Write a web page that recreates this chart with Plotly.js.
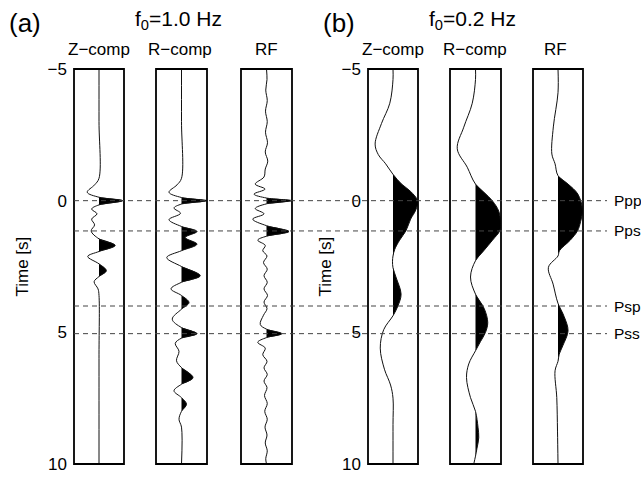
<!DOCTYPE html>
<html><head><meta charset="utf-8">
<script src="https://cdn.plot.ly/plotly-3.0.1.min.js"></script>
<style>html,body{margin:0;padding:0;background:#fff}#chart{width:641px;height:478px}</style>
</head><body><div id="chart"></div>
<script>
// ---- data (time in s, normalised amplitude) ----
const timeTicks = [-5, 0, 5, 10];
const phaseNames = ['Ppp', 'Pps', 'Psp', 'Pss'];
const phaseTimes = [0, 1.15, 4.0, 5.05];
const compTitles = ['Z−comp', 'R−comp', 'RF'];
const groupLabels = ['(a)', '(b)'];
const freqLabels = ['f<sub>0</sub>=1.0 Hz', 'f<sub>0</sub>=0.2 Hz'];

// (a) f0 = 1.0 Hz
const zA_t = [-5, -3, -0.85, -0.6, -0.32, -0.13, 0, 0.16, 0.32, 0.5, 0.7, 0.92, 1.15, 1.45, 1.7, 1.93, 2.12, 2.4, 2.66, 2.88, 3.08, 3.35, 3.6, 6, 10];
const zA_a = [0, 0, 0, -0.18, -0.48, 0, 0.97, 0, -0.3, -0.08, -0.3, -0.18, -0.32, 0, 0.66, 0, -0.46, 0, 0.3, 0, -0.2, -0.04, 0, 0, 0];

const rA_t = [-5, -3, -0.85, -0.6, -0.32, -0.12, 0, 0.13, 0.28, 0.48, 0.72, 0.98, 1.17, 1.4, 1.65, 1.9, 2.16, 2.5, 2.85, 3.1, 3.35, 3.6, 3.87, 4.12, 4.5, 4.82, 5.05, 5.22, 5.42, 5.72, 6.08, 6.34, 6.72, 6.97, 7.22, 7.48, 7.73, 8.0, 8.3, 8.6, 10];
const rA_a = [0, 0, 0, -0.18, -0.5, 0, 1.0, 0, -0.3, -0.04, -0.5, 0, 0.62, 0.15, 0.62, 0, -0.59, 0, 0.75, 0, -0.42, 0, 0.3, 0, -0.37, 0, 0.62, 0, -0.25, -0.1, -0.2, 0, 0.46, 0, -0.3, 0, 0.2, 0, -0.1, 0, 0];

const fA_t = [-5, -4.6, -4.2, -3.8, -3.4, -3.0, -2.6, -2.2, -1.85, -1.5, -1.2, -0.9, -0.63, -0.44, -0.25, -0.1, 0, 0.12, 0.3, 0.5, 0.7, 0.95, 1.17, 1.35, 1.5, 1.7, 1.9, 2.1, 2.35, 2.6, 2.85, 3.1, 3.35, 3.6, 3.85, 4.1, 4.35, 4.7, 4.88, 5.05, 5.2, 5.38, 5.6, 5.85, 6.1, 6.35, 6.6, 6.85, 7.1, 7.4, 7.7, 8.0, 8.3, 8.6, 8.9, 9.2, 9.5, 9.8, 10];
const fA_a = [0, 0.02, -0.03, 0.03, -0.04, 0.03, -0.04, 0.04, -0.05, 0.05, -0.05, -0.1, -0.45, -0.06, -0.5, 0, 1.0, 0, -0.45, -0.1, -0.55, 0, 0.9, 0, -0.35, -0.05, -0.15, 0.02, -0.12, 0.03, -0.1, 0.03, -0.1, 0.04, -0.1, 0.02, -0.12, -0.25, 0, 0.62, 0, -0.35, -0.05, -0.15, 0.02, -0.1, 0.03, -0.1, 0.02, -0.08, 0.03, -0.07, 0.03, -0.06, 0.02, -0.05, 0.03, -0.03, 0];

// (b) f0 = 0.2 Hz
const zB_t = [-5, -4.6, -3.7, -2.93, -2.15, -1.75, -1.4, -1.0, -0.63, -0.35, 0, 0.35, 0.7, 1.14, 1.5, 1.85, 2.1, 2.3, 2.55, 2.9, 3.55, 4.0, 4.37, 4.9, 5.6, 6.4, 7.0, 7.5, 8.5, 10];
const zB_a = [0, 0, -0.13, -0.47, -0.73, -0.6, -0.3, 0, 0.35, 0.72, 1.0, 0.93, 0.72, 0.53, 0.27, 0.07, 0, -0.02, 0, 0.12, 0.33, 0.2, 0, -0.38, -0.52, -0.35, -0.1, 0, 0, 0];

const rB_t = [-5, -4.6, -3.7, -2.79, -1.97, -1.27, -0.63, 0, 0.4, 0.82, 1.14, 1.5, 1.9, 2.28, 2.9, 3.55, 4.1, 4.63, 5.0, 5.35, 5.7, 6.2, 6.72, 7.48, 8.0, 8.6, 9.0, 9.4, 9.7, 10];
const rB_a = [0, 0, -0.13, -0.47, -0.73, -0.33, 0, 0.67, 0.93, 1.0, 0.97, 0.68, 0.33, 0, -0.2, 0, 0.35, 0.49, 0.4, 0.2, 0, -0.27, -0.36, -0.2, 0, 0.1, 0.13, 0.06, 0, -0.07];

const fB_t = [-5, -4.1, -2.8, -1.77, -1.4, -0.95, -0.63, -0.25, 0.35, 0.8, 1.14, 1.5, 1.9, 2.1, 2.53, 3.17, 3.9, 4.4, 4.94, 5.5, 5.83, 6.1, 6.46, 7.48, 8.75, 10];
const fB_a = [0, 0, -0.19, -0.25, -0.12, 0, 0.41, 0.81, 1.0, 0.92, 0.8, 0.5, 0.06, 0, -0.39, -0.2, 0, 0.25, 0.41, 0.2, 0.05, 0, -0.12, -0.05, -0.02, 0];

// ---- layout geometry (pixels of a 641x478 canvas) ----
const W = 641, H = 478;
const px = v => v / W, py = v => 1 - v / H;
const boxes = [[74,124],[156,207],[241,292],[368,418],[450,501],[533,583]];
const boxTop = 69, boxBot = 464;
const headerX = [98.5, 180, 266, 393, 475, 555];

const series = [[zA_t,zA_a],[rA_t,rA_a],[fA_t,fA_a],[zB_t,zB_a],[rB_t,rB_a],[fB_t,fB_a]];

function posLobes(t, a){
  const X = [], Y = [];
  let inL = false, peak = 0, start = 0;
  for (let i = 0; i < a.length; i++){
    if (a[i] > 0){
      if (!inL){ start = X.length; peak = 0; if (i > 0){ X.push(0); Y.push(t[i-1]); } inL = true; }
      X.push(a[i]); Y.push(t[i]); peak = Math.max(peak, a[i]);
    } else if (inL){
      X.push(0); Y.push(t[i]); X.push(null); Y.push(null); inL = false;
      if (peak < 0.09){ X.splice(start); Y.splice(start); }
    }
  }
  return {X, Y};
}

const font = 'Liberation Sans, Arial, Helvetica, sans-serif';
const traces = [], layout = {
  width: W, height: H, margin: {l:0, r:0, t:0, b:0},
  paper_bgcolor: '#fff', plot_bgcolor: 'rgba(0,0,0,0)',
  showlegend: false, font: {family: font, color: '#000'},
  shapes: [], annotations: []
};
const yDom = [py(boxBot), py(boxTop)];
const yCommon = {domain: yDom, range: [10, -5], tickvals: timeTicks, ticks: '', showgrid: false,
  zeroline: false, showline: false, tickfont: {size: 17, family: font}, ticklabelstandoff: 6, fixedrange: true};
layout.yaxis = Object.assign({anchor: 'x'}, yCommon);
layout.yaxis2 = Object.assign({anchor: 'x4'}, yCommon);

series.forEach((s, i) => {
  const n = i + 1, xa = 'x' + n, ya = i < 3 ? 'y' : 'y2';
  layout['xaxis' + n] = {domain: [px(boxes[i][0]), px(boxes[i][1])], range: [-1.02, 1.02],
    anchor: ya, showticklabels: false, ticks: '', showgrid: false, zeroline: false, showline: false, fixedrange: true};
  const lob = posLobes(s[0], s[1]);
  traces.push({x: lob.X, y: lob.Y, xaxis: xa, yaxis: ya, mode: 'lines', fill: 'tozerox',
    fillcolor: '#000', line: {width: 0, shape: 'spline'}, hoverinfo: 'skip', connectgaps: false});
  traces.push({x: s[1], y: s[0], xaxis: xa, yaxis: ya, mode: 'lines',
    line: {width: 1, color: '#111', shape: 'spline'}, hoverinfo: 'skip'});
  layout.shapes.push({type: 'rect', xref: xa + ' domain', yref: ya + ' domain', x0: 0, x1: 1, y0: 0, y1: 1,
    line: {color: '#000', width: 1.8}, layer: 'above'});
  layout.annotations.push({text: compTitles[i % 3], xref: 'paper', yref: 'paper', x: px(headerX[i]), y: py(49),
    xanchor: 'center', yanchor: 'middle', showarrow: false, font: {size: 17}});
});

phaseTimes.forEach((t, k) => {
  layout.shapes.push({type: 'line', xref: 'paper', yref: 'y', x0: px(74), x1: px(607), y0: t, y1: t,
    line: {color: '#444', width: 1, dash: '5px,4px'}, layer: 'above'});
  layout.annotations.push({text: phaseNames[k], xref: 'paper', yref: 'y', x: px(612), y: t,
    xanchor: 'left', yanchor: 'middle', showarrow: false, font: {size: 15.5}});
});

const grpLeft = [7, 321], freqX = [178, 472], timeX = [22, 325];
[0, 1].forEach(g => {
  layout.annotations.push({text: groupLabels[g], xref: 'paper', yref: 'paper', x: px(grpLeft[g]), y: py(23),
    xanchor: 'left', yanchor: 'middle', showarrow: false, font: {size: 26}});
  layout.annotations.push({text: freqLabels[g], xref: 'paper', yref: 'paper', x: px(freqX[g]), y: py(20),
    xanchor: 'center', yanchor: 'middle', showarrow: false, font: {size: 21}});
  layout.annotations.push({text: 'Time [s]', xref: 'paper', yref: 'paper', x: px(timeX[g]), y: py(266.5),
    xanchor: 'center', yanchor: 'middle', textangle: -90, showarrow: false, font: {size: 17}});
});

Plotly.newPlot('chart', traces, layout, {staticPlot: true, displayModeBar: false});
</script>
</body></html>
